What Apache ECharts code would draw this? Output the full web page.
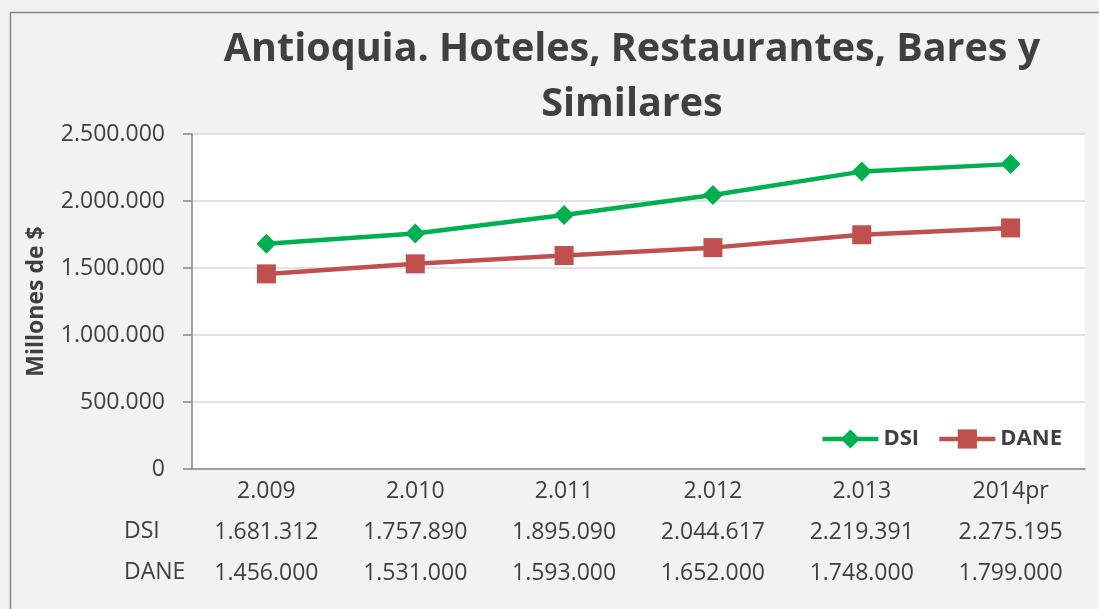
<!DOCTYPE html>
<html>
<head>
<meta charset="utf-8">
<script src="https://cdn.jsdelivr.net/npm/echarts@6/dist/echarts.min.js"></script>
<style>
  html, body { margin: 0; padding: 0; background: #fff; }
  #main { width: 1099px; height: 609px; }
</style>
</head>
<body>
<div id="main"></div>
<script>
// datos del gráfico
var anios = ['2.009', '2.010', '2.011', '2.012', '2.013', '2014pr'];
var dsi = [1681312, 1757890, 1895090, 2044617, 2219391, 2275195];
var dane = [1456000, 1531000, 1593000, 1652000, 1748000, 1799000];

var FONT = 'Open Sans';
var TXT = '#404040';

// separador de miles con punto
function fmt(v) {
  return String(v).replace(/\B(?=(\d{3})+(?!\d))/g, '.');
}

var myChart = echarts.init(document.getElementById('main'));

myChart.setOption({
  backgroundColor: '#f2f2f2',
  animation: false,
  textStyle: { fontFamily: FONT, color: TXT },
  title: {
    text: 'Antioquia. Hoteles, Restaurantes, Bares y\nSimilares',
    left: 627,
    top: 17,
    textAlign: 'center',
    textStyle: { fontFamily: FONT, fontSize: 39.5, fontWeight: 'bold', color: TXT, lineHeight: 55 }
  },
  legend: {
    right: 32,
    top: 423,
    itemWidth: 56,
    itemHeight: 24,
    itemGap: 18,
    lineStyle: { width: 4.5 },
    textStyle: { fontFamily: FONT, fontSize: 22, fontWeight: 'bold', color: TXT },
    data: ['DSI', 'DANE']
  },
  grid: {
    left: 192,
    top: 134,
    right: 14,
    bottom: 140,
    show: true,
    backgroundColor: '#ffffff',
    borderWidth: 0
  },
  xAxis: {
    type: 'category',
    data: anios,
    boundaryGap: true,
    axisLine: { lineStyle: { color: '#868686', width: 1.5 } },
    axisTick: { show: false },
    axisLabel: {
      margin: 2,
      interval: 0,
      fontFamily: FONT,
      fontSize: 23,
      color: TXT,
      lineHeight: 41,
      formatter: function (val, idx) {
        return val + '\n' + fmt(dsi[idx]) + '\n' + fmt(dane[idx]);
      }
    }
  },
  yAxis: {
    type: 'value',
    min: 0,
    max: 2500000,
    interval: 500000,
    name: 'Millones de $',
    nameLocation: 'middle',
    nameRotate: 90,
    nameGap: 144,
    nameTextStyle: { fontFamily: FONT, fontSize: 23, fontWeight: 'bold', color: TXT },
    axisLine: { show: true, lineStyle: { color: '#868686', width: 1.5 } },
    axisTick: { show: true, length: 9, lineStyle: { color: '#868686', width: 1.5 } },
    splitLine: { lineStyle: { color: '#d9d9d9', width: 1.5 } },
    axisLabel: {
      margin: 27,
      fontFamily: FONT,
      fontSize: 23,
      color: TXT,
      formatter: function (v) { return fmt(v); }
    }
  },
  graphic: [
    { type: 'text', x: 124, y: 531, style: { text: 'DSI', font: '23px "Open Sans"', fill: TXT, verticalAlign: 'middle' } },
    { type: 'text', x: 124, y: 572, style: { text: 'DANE', font: '23px "Open Sans"', fill: TXT, verticalAlign: 'middle' } },
    { type: 'rect', left: 8, top: 10, shape: { width: 1200, height: 700 }, style: { fill: 'none', stroke: '#868686', lineWidth: 1.5 }, silent: true }
  ],
  series: [
    {
      name: 'DSI',
      type: 'line',
      data: dsi,
      symbol: 'diamond',
      symbolSize: 20,
      lineStyle: { color: '#00b050', width: 4.5 },
      itemStyle: { color: '#00b050' }
    },
    {
      name: 'DANE',
      type: 'line',
      data: dane,
      symbol: 'rect',
      symbolSize: 19,
      lineStyle: { color: '#c0504d', width: 4.5 },
      itemStyle: { color: '#c0504d' }
    }
  ]
});
</script>
</body>
</html>
